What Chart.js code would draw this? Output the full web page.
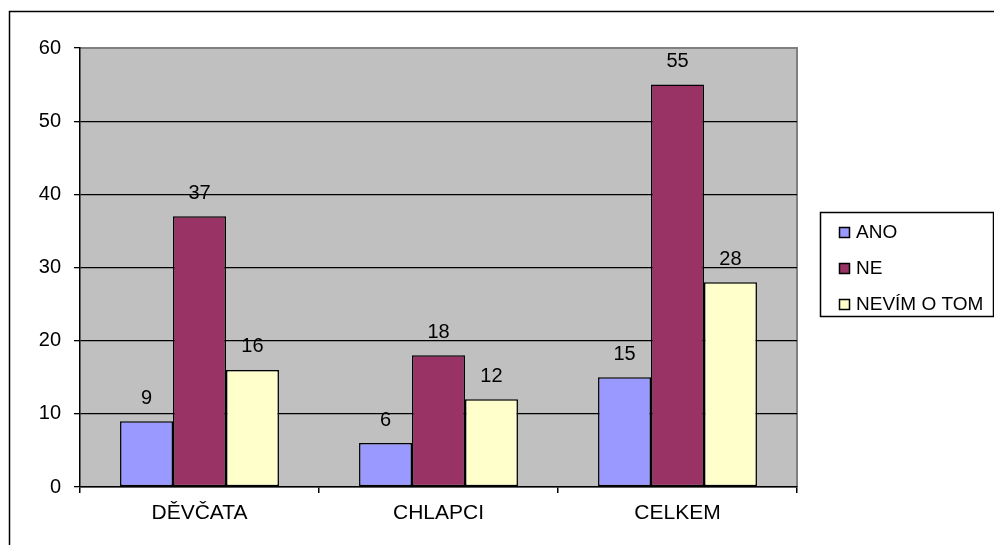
<!DOCTYPE html>
<html>
<head>
<meta charset="utf-8">
<script src="https://cdn.jsdelivr.net/npm/chart.js@4/dist/chart.umd.min.js"></script>
<style>
  html, body { margin: 0; padding: 0; background: #fff; }
  #wrap { width: 994px; height: 545px; }
</style>
</head>
<body>
<div id="wrap"><canvas id="myChart" width="994" height="545"></canvas></div>
<script>
const categories = ['DĚVČATA', 'CHLAPCI', 'CELKEM'];
const seriesNames = ['ANO', 'NE', 'NEVÍM O TOM'];
const anoValues = [9, 6, 15];
const neValues = [37, 18, 55];
const nevimValues = [16, 12, 28];
const seriesColors = ['#9999FF', '#993366', '#FFFFCC'];
const yTicks = [0, 10, 20, 30, 40, 50, 60];

const FONT = '"Liberation Sans", Arial, sans-serif';

// gray plot background, outer frame
const backdrop = {
  id: 'backdrop',
  beforeDraw(chart) {
    const { ctx, chartArea: a } = chart;
    ctx.save();
    ctx.fillStyle = '#fff';
    ctx.fillRect(0, 0, chart.width, chart.height);
    ctx.strokeStyle = '#000';
    ctx.lineWidth = 1.5;
    ctx.strokeRect(9.5, 11.5, chart.width + 20, chart.height + 20);
    ctx.fillStyle = '#C0C0C0';
    ctx.fillRect(a.left, a.top, a.right - a.left, a.bottom - a.top);
    ctx.strokeStyle = '#808080';
    ctx.lineWidth = 2;
    ctx.beginPath();
    ctx.moveTo(a.left, a.top);
    ctx.lineTo(a.right, a.top);
    ctx.lineTo(a.right, a.bottom);
    ctx.stroke();
    ctx.restore();
  }
};

// value labels over bars + legend box
const extras = {
  id: 'extras',
  afterDatasetsDraw(chart) {
    const ctx = chart.ctx;
    ctx.save();
    ctx.font = '20px ' + FONT;
    ctx.fillStyle = '#000';
    ctx.textAlign = 'center';
    ctx.textBaseline = 'middle';
    chart.data.datasets.forEach((ds, i) => {
      chart.getDatasetMeta(i).data.forEach((bar, j) => {
        ctx.fillText(String(ds.data[j]), bar.x, bar.y - 23);
      });
    });

    // legend
    ctx.strokeStyle = '#000';
    ctx.lineWidth = 1.5;
    ctx.strokeRect(820.5, 212.5, 173, 104);
    ctx.font = '19px ' + FONT;
    ctx.textAlign = 'left';
    const rows = [232, 268, 304];
    seriesNames.forEach((name, i) => {
      ctx.fillStyle = seriesColors[i];
      ctx.fillRect(839.5, rows[i] - 4.5, 10, 10);
      ctx.lineWidth = 1.5;
      ctx.strokeRect(839.5, rows[i] - 4.5, 10, 10);
      ctx.fillStyle = '#000';
      ctx.fillText(name, 856, rows[i] + 1);
    });
    ctx.restore();
  }
};

const data = {
  labels: categories,
  datasets: [anoValues, neValues, nevimValues].map((vals, i) => ({
    label: seriesNames[i],
    data: vals,
    backgroundColor: seriesColors[i],
    borderColor: '#000',
    borderWidth: 1.5,
    borderSkipped: false,
    categoryPercentage: 0.665,
    barPercentage: 1
  }))
};

new Chart(document.getElementById('myChart'), {
  type: 'bar',
  data: data,
  plugins: [backdrop, extras],
  options: {
    responsive: false,
    animation: false,
    layout: { padding: { left: 0, top: 48, right: 197, bottom: 0 } },
    plugins: {
      legend: { display: false },
      tooltip: { enabled: false }
    },
    scales: {
      x: {
        afterFit(scale) { scale.height = 58; },
        grid: {
          offset: true,
          drawOnChartArea: false,
          drawTicks: true,
          tickLength: 6,
          tickColor: '#000',
          lineWidth: 1.5
        },
        border: { display: true, color: '#000', width: 1.5 },
        ticks: { color: '#000', font: { family: FONT, size: 21 }, padding: 8 }
      },
      y: {
        min: 0,
        max: 60,
        afterFit(scale) { scale.width = 80; },
        afterBuildTicks(scale) { scale.ticks = yTicks.map(v => ({ value: v })); },
        grid: {
          color: ctx => (ctx.tick && ctx.tick.value === 60) ? '#808080' : '#000',
          tickColor: '#000',
          tickLength: 6,
          lineWidth: 1.3
        },
        border: { display: true, color: '#000', width: 1.5 },
        ticks: { color: '#000', font: { family: FONT, size: 20 }, padding: 13 }
      }
    }
  }
});
</script>
</body>
</html>
